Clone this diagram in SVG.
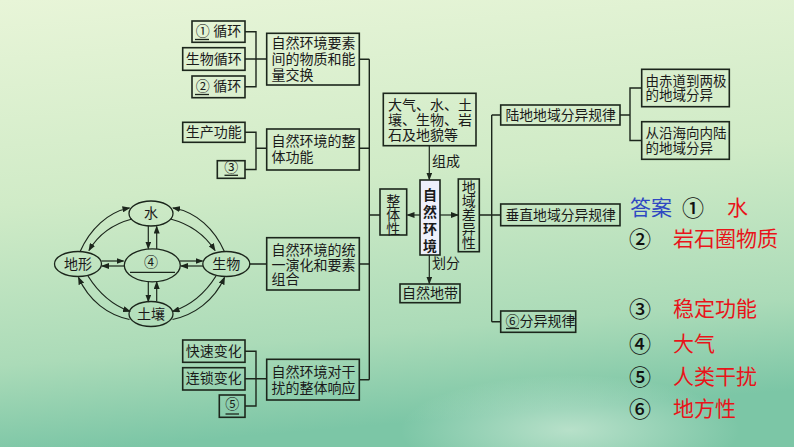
<svg xmlns="http://www.w3.org/2000/svg" width="794" height="447" viewBox="0 0 794 447">
<defs>
<linearGradient id="bg" x1="0" y1="0" x2="0.15" y2="1">
<stop offset="0" stop-color="#e8f5d8"/>
<stop offset="0.45" stop-color="#d0ebc7"/>
<stop offset="0.8" stop-color="#abdbb8"/>
<stop offset="1" stop-color="#7cc6a6"/>
</linearGradient>
<radialGradient id="patch" cx="0.5" cy="0.5" r="0.5">
<stop offset="0" stop-color="#e8f6e6" stop-opacity="0.55"/>
<stop offset="1" stop-color="#e8f6e6" stop-opacity="0"/>
</radialGradient>
<marker id="ah" markerUnits="userSpaceOnUse" markerWidth="8" markerHeight="6" refX="7" refY="3" orient="auto">
<path d="M0,0 L8,3 L0,6 Z" fill="#1c261c"/>
</marker>
<style>
.box{fill:none;stroke:#1c261c;stroke-width:1.6}
.ell{fill:none;stroke:#1c261c;stroke-width:1.3}
.ln{fill:none;stroke:#1c261c;stroke-width:1.4}
.ar{fill:none;stroke:#1c261c;stroke-width:1.2;marker-end:url(#ah)}
.ul{stroke:#1c261c;stroke-width:1.3}
.t{font-family:"Liberation Serif","Noto Sans CJK SC",serif;font-size:14px;fill:#1a1a1a;dominant-baseline:central}
.c{text-anchor:middle}
.b{font-weight:bold}
.ans{font-family:"Noto Sans CJK SC",sans-serif;font-size:21px;dominant-baseline:central}
.k{fill:#111111;font-size:22px;font-weight:500}
.r{fill:#e8141a}
.bl{fill:#2f48c2}
</style>
</defs>
<rect width="794" height="447" fill="url(#bg)"/>
<ellipse cx="570" cy="430" rx="170" ry="55" fill="url(#patch)"/>

<g id="connectors">
<path class="ln" d="M245 31.7 H256 V86.8 H245 M245 59 H266.7 M359.3 59.3 H369.3"/>
<path class="ln" d="M245 132.3 H256 V169.5 H245 M256 148.3 H266.7 M359.3 148.3 H369.3"/>
<path class="ln" d="M249.8 264 H266.7 M359.3 264 H369.3"/>
<path class="ln" d="M245 351.2 H256 V406 H245 M245 378.8 H266.7 M359.3 379.7 H369.3"/>
<path class="ln" d="M369.3 59.3 V379.7 M369.3 215 H380"/>
<path class="ar" d="M420 215 H407.5"/>
<path class="ar" d="M440 215 H458"/>
<path class="ar" d="M429.3 145.7 V179.5"/>
<path class="ar" d="M429.3 255 V283.5"/>
<path class="ln" d="M479.3 215 H491.7 M491.7 115 V321.7 M491.7 115 H500.7 M491.7 215 H500.7 M491.7 321.7 H500.7"/>
<path class="ln" d="M620 115 H630 M641.7 88 H630 V140.5 H641.7"/>
<path class="ar" d="M148.3 226 V248.5"/>
<path class="ar" d="M156.7 249 V226.5"/>
<path class="ar" d="M148.3 281.6 V301.5"/>
<path class="ar" d="M156.7 301.6 V282"/>
<path class="ar" d="M101.5 261 H123.5"/>
<path class="ar" d="M124.5 266 H102"/>
<path class="ar" d="M180 261 H202.5"/>
<path class="ar" d="M203 266 H181"/>
<path class="ar" d="M80 251.8 C90 229 108 212 129.5 208"/>
<path class="ar" d="M132 219 C113 224 98 235 89 250.5"/>
<path class="ar" d="M224.5 251.8 C214.5 229 196.5 212 173 208"/>
<path class="ar" d="M170.5 219 C189.5 224 205 235 215 250.5"/>
<path class="ar" d="M129.5 319.5 C108 315 89 301 78.5 277.5"/>
<path class="ar" d="M88 276 C98 292 112 305 130 311.5"/>
<path class="ar" d="M172.5 319.5 C194 315 214 301 224.5 277.5"/>
<path class="ar" d="M216 276 C206 292 192 305 172.5 311.5"/>
</g>

<g id="n-cycle1">
<rect class="box" x="192" y="21" width="53" height="21.3"/>
<text class="t c" x="218.5" y="31.5">① 循环</text>
<line class="ul" x1="195" y1="39.5" x2="209" y2="39.5"/>
</g>
<g id="n-biocycle">
<rect class="box" x="182.7" y="47.7" width="62.3" height="22.6"/>
<text class="t c" x="213.8" y="59">生物循环</text>
</g>
<g id="n-cycle2">
<rect class="box" x="192" y="76" width="53" height="21.7"/>
<text class="t c" x="218.5" y="86.5">② 循环</text>
<line class="ul" x1="195" y1="94.5" x2="209" y2="94.5"/>
</g>
<g id="n-exchange">
<rect class="box" x="266.7" y="33.3" width="92.6" height="51.7"/>
<text class="t" x="271.5" y="43.5">自然环境要素</text>
<text class="t" x="271.5" y="59.3">间的物质和能</text>
<text class="t" x="271.5" y="75">量交换</text>
</g>
<g id="n-production">
<rect class="box" x="182.7" y="122.3" width="62.3" height="20"/>
<text class="t c" x="213.8" y="132.3">生产功能</text>
</g>
<g id="n-3">
<rect class="box" x="217.3" y="160.7" width="27.7" height="17.6"/>
<text class="t c" x="231.2" y="167.8">③</text>
<line class="ul" x1="224.5" y1="175.3" x2="238" y2="175.3"/>
</g>
<g id="n-function">
<rect class="box" x="266.7" y="129" width="92.6" height="41"/>
<text class="t" x="271.5" y="141.5">自然环境的整</text>
<text class="t" x="271.5" y="157">体功能</text>
</g>
<g id="n-evolution">
<rect class="box" x="266.7" y="237.7" width="92.6" height="52.3"/>
<text class="t" x="271.5" y="250">自然环境的统</text>
<text class="t" x="271.5" y="265">一演化和要素</text>
<text class="t" x="271.5" y="279.5">组合</text>
</g>
<g id="n-fast">
<rect class="box" x="182.7" y="340" width="62.3" height="22.3"/>
<text class="t c" x="213.8" y="351.2">快速变化</text>
</g>
<g id="n-chain">
<rect class="box" x="182.7" y="367.7" width="62.3" height="22.3"/>
<text class="t c" x="213.8" y="378.8">连锁变化</text>
</g>
<g id="n-5">
<rect class="box" x="219.3" y="395" width="25.7" height="22.3"/>
<text class="t c" x="232.2" y="404.5">⑤</text>
<line class="ul" x1="225.5" y1="414" x2="239" y2="414"/>
</g>
<g id="n-response">
<rect class="box" x="266.7" y="359.3" width="92.6" height="40.7"/>
<text class="t" x="271.5" y="372.7">自然环境对干</text>
<text class="t" x="271.5" y="388">扰的整体响应</text>
</g>

<g id="n-water">
<ellipse class="ell" cx="151" cy="213.5" rx="22" ry="12.5"/>
<text class="t c" x="151" y="213.5">水</text>
</g>
<g id="n-landform">
<ellipse class="ell" cx="78" cy="264" rx="23.5" ry="12.5"/>
<text class="t c" x="78" y="264">地形</text>
</g>
<g id="n-4">
<ellipse class="ell" cx="152.3" cy="265.3" rx="28" ry="16.5"/>
<text class="t c" x="151" y="262.5">④</text>
<line class="ul" x1="130" y1="272.3" x2="175" y2="272.3"/>
</g>
<g id="n-bio">
<ellipse class="ell" cx="226.3" cy="264" rx="23.5" ry="12.5"/>
<text class="t c" x="226.3" y="264">生物</text>
</g>
<g id="n-soil">
<ellipse class="ell" cx="151" cy="314" rx="22" ry="12.5"/>
<text class="t c" x="151" y="314">土壤</text>
</g>

<g id="n-components">
<rect class="box" x="383.3" y="93.3" width="92.7" height="52.4"/>
<text class="t" x="388" y="105">大气、水、土</text>
<text class="t" x="388" y="120">壤、生物、岩</text>
<text class="t" x="388" y="135">石及地貌等</text>
</g>
<text class="t c" x="446" y="161">组成</text>
<text class="t c" x="446" y="263.5">划分</text>
<g id="n-wholeness">
<rect class="box" x="380" y="189" width="26.7" height="46"/>
<text class="t c" x="393.3" y="201.5">整</text>
<text class="t c" x="393.3" y="215.5">体</text>
<text class="t c" x="393.3" y="229.5">性</text>
</g>
<g id="n-env">
<rect x="420" y="180" width="20" height="75" fill="#eef0fb" stroke="#1c261c" stroke-width="1.6"/>
<text class="t c b" x="430" y="195">自</text>
<text class="t c b" x="430" y="212">然</text>
<text class="t c b" x="430" y="229">环</text>
<text class="t c b" x="430" y="246">境</text>
</g>
<g id="n-diff">
<rect class="box" x="458.3" y="179" width="21" height="72.7"/>
<text class="t c" x="468.8" y="187">地</text>
<text class="t c" x="468.8" y="201">域</text>
<text class="t c" x="468.8" y="215">差</text>
<text class="t c" x="468.8" y="229">异</text>
<text class="t c" x="468.8" y="243">性</text>
</g>
<g id="n-zone">
<rect class="box" x="400" y="284" width="60" height="18.7"/>
<text class="t c" x="430" y="293.3">自然地带</text>
</g>

<g id="n-land">
<rect class="box" x="500.7" y="105" width="119.3" height="20"/>
<text class="t" x="505.5" y="115" style="font-size:13.8px">陆地地域分异规律</text>
</g>
<g id="n-vertical">
<rect class="box" x="500.7" y="204" width="119.3" height="21.7"/>
<text class="t" x="505.5" y="215" style="font-size:13.8px">垂直地域分异规律</text>
</g>
<g id="n-6">
<rect class="box" x="500.7" y="311" width="75" height="21.3"/>
<text class="t" x="505.5" y="321.5">⑥分异规律</text>
<line class="ul" x1="506" y1="328.5" x2="519" y2="328.5"/>
</g>
<g id="n-equator">
<rect class="box" x="641.7" y="69.3" width="87.6" height="37.4"/>
<text class="t" x="645.5" y="81" style="font-size:13.5px">由赤道到两极</text>
<text class="t" x="645.5" y="95.5" style="font-size:13.5px">的地域分异</text>
</g>
<g id="n-coast">
<rect class="box" x="641.7" y="121.7" width="87.6" height="37.6"/>
<text class="t" x="645.5" y="133" style="font-size:13.5px">从沿海向内陆</text>
<text class="t" x="645.5" y="148" style="font-size:13.5px">的地域分异</text>
</g>

<g id="answers">
<text class="ans bl" x="630" y="206">答案</text>
<text class="ans k" x="682" y="206">①</text>
<text class="ans r" x="727" y="206">水</text>
<text class="ans k" x="629" y="237">②</text>
<text class="ans r" x="673" y="237">岩石圈物质</text>
<text class="ans k" x="629" y="306.5">③</text>
<text class="ans r" x="673" y="306.5">稳定功能</text>
<text class="ans k" x="629" y="342">④</text>
<text class="ans r" x="673" y="342">大气</text>
<text class="ans k" x="629" y="375">⑤</text>
<text class="ans r" x="673" y="375">人类干扰</text>
<text class="ans k" x="629" y="406.5">⑥</text>
<text class="ans r" x="673" y="406.5">地方性</text>
</g>
</svg>
